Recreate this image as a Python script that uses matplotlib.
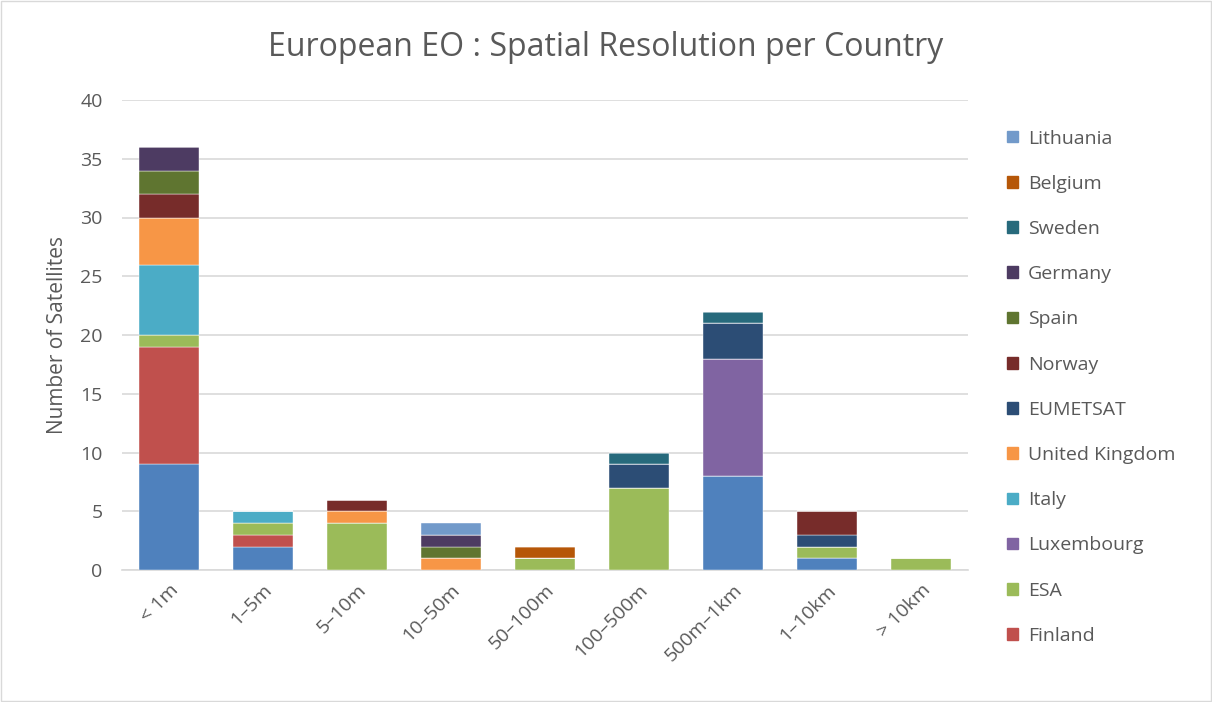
import numpy as np
import matplotlib.pyplot as plt
from matplotlib.patches import Rectangle

# categories along the x axis
categories = ['< 1m', '1–5m', '5–10m', '10–50m', '50–100m',
              '100–500m', '500m–1km', '1–10km', '> 10km']

# stacked series, bottom to top
france     = [9, 2, 0, 0, 0, 0, 8, 1, 0]
finland    = [10, 1, 0, 0, 0, 0, 0, 0, 0]
esa        = [1, 1, 4, 0, 1, 7, 0, 1, 1]
luxembourg = [0, 0, 0, 0, 0, 0, 10, 0, 0]
italy      = [6, 1, 0, 0, 0, 0, 0, 0, 0]
uk         = [4, 0, 1, 1, 0, 0, 0, 0, 0]
eumetsat   = [0, 0, 0, 0, 0, 2, 3, 1, 0]
norway     = [2, 0, 1, 0, 0, 0, 0, 2, 0]
spain      = [2, 0, 0, 1, 0, 0, 0, 0, 0]
germany    = [2, 0, 0, 1, 0, 0, 0, 0, 0]
sweden     = [0, 0, 0, 0, 0, 1, 1, 0, 0]
belgium    = [0, 0, 0, 0, 1, 0, 0, 0, 0]
lithuania  = [0, 0, 0, 1, 0, 0, 0, 0, 0]

series = [
    ('France', france, '#4F81BD'),
    ('Finland', finland, '#C0504D'),
    ('ESA', esa, '#9BBB59'),
    ('Luxembourg', luxembourg, '#8064A2'),
    ('Italy', italy, '#4BACC6'),
    ('United Kingdom', uk, '#F79646'),
    ('EUMETSAT', eumetsat, '#2C4D75'),
    ('Norway', norway, '#772C2A'),
    ('Spain', spain, '#5F7530'),
    ('Germany', germany, '#4D3B62'),
    ('Sweden', sweden, '#276A7C'),
    ('Belgium', belgium, '#B65708'),
    ('Lithuania', lithuania, '#729ACA'),
]

plt.rcParams['font.family'] = ['Open Sans', 'DejaVu Sans']
text_col = '#595959'
grid_col = '#D9D9D9'

fig = plt.figure(figsize=(12.12, 7.02), dpi=100)
ax = fig.add_axes([122 / 1212, 1 - 570 / 702, 846 / 1212, 470 / 702])

x = np.arange(len(categories))
bottom = np.zeros(len(categories))
handles = []
for name, vals, col in series:
    vals = np.array(vals, dtype=float)
    ax.bar(x, vals, 0.64, bottom=bottom, color=col,
           edgecolor='white', linewidth=0.3, zorder=3, label=name)
    handles.append((name, col))
    bottom += vals

ax.set_xlim(-0.5, len(categories) - 0.5)
ax.set_ylim(0, 40)
ax.set_yticks(range(0, 41, 5))
ax.yaxis.grid(True, color=grid_col, linewidth=1.2, zorder=0)
ax.set_axisbelow(True)
for s in ['top', 'right', 'left']:
    ax.spines[s].set_visible(False)
ax.spines['bottom'].set_color(grid_col)
ax.spines['bottom'].set_linewidth(1.2)
ax.tick_params(axis='both', length=0, labelsize=14, labelcolor=text_col)
ax.tick_params(axis='y', pad=14)
ax.set_xticks(x)
ax.set_xticklabels(categories, rotation=45, ha='right', rotation_mode='anchor')
ax.tick_params(axis='x', pad=8)
ax.set_ylabel('Number of Satellites', fontsize=15, color=text_col, labelpad=9)

fig.text(606 / 1212, 1 - 47 / 702, 'European EO : Spatial Resolution per Country',
         ha='center', va='center', fontsize=23, color=text_col)

# legend: Excel order (reversed), last entry (France) cut off
leg_items = [h for h in handles[::-1] if h[0] != 'France']
leg = fig.legend([Rectangle((0, 0), 1, 1, color=c) for _, c in leg_items],
                 [n for n, _ in leg_items],
                 loc='upper left', bbox_to_anchor=(990 / 1212, 1 - 112 / 702),
                 frameon=False, fontsize=14, labelcolor=text_col,
                 handlelength=0.55, handleheight=0.55, handletextpad=0.5,
                 labelspacing=1.4)

# outer border
fig.patches.append(Rectangle((0.001, 0.001), 0.998, 0.997, transform=fig.transFigure,
                             fill=False, edgecolor='#D9D9D9', linewidth=1))

fig.savefig('out.png', dpi=100)
